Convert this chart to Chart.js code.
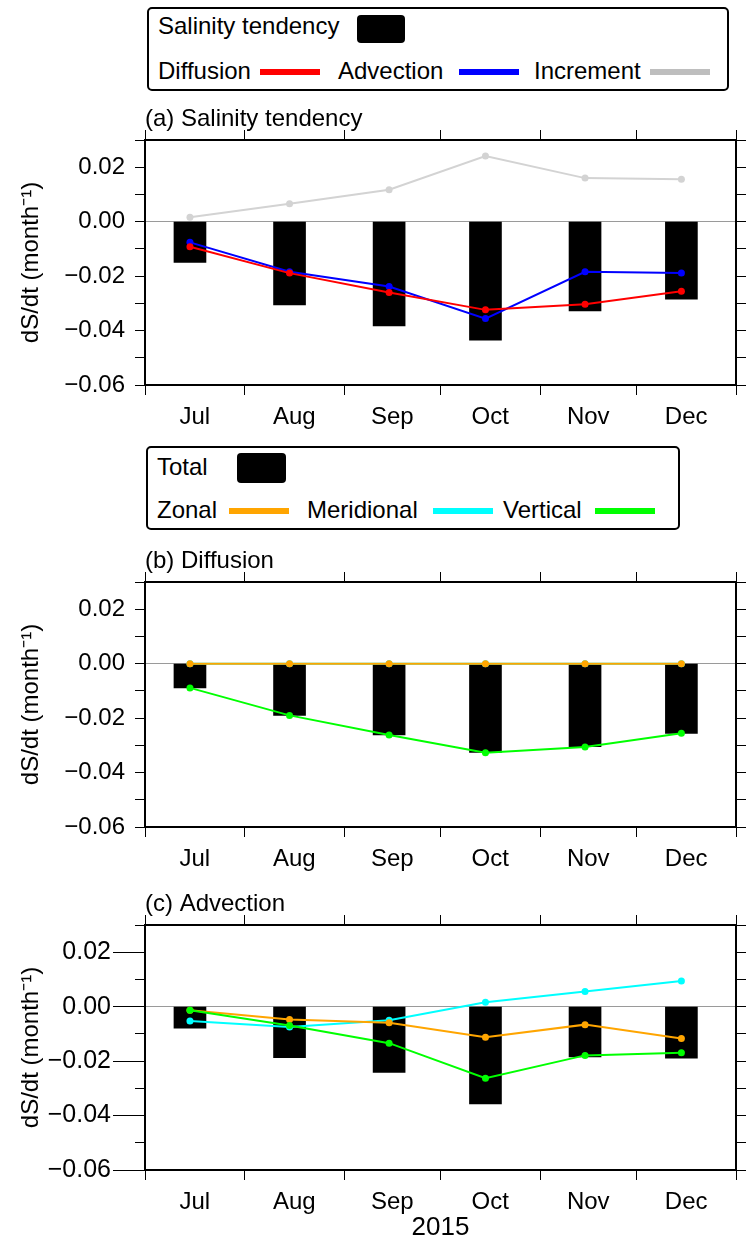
<!DOCTYPE html>
<html>
<head>
<meta charset="utf-8">
<title>Salinity tendency</title>
<script src="https://cdn.jsdelivr.net/npm/chart.js@4.4.1/dist/chart.umd.min.js"></script>
<style>
  body { margin: 0; width: 752px; height: 1242px; overflow: hidden; position: relative; background: #fff;
         font-family: 'Liberation Sans', Arial, sans-serif; color: #000; }
  canvas { position: absolute; left: 0; }
  .legend { position: absolute; border: 2px solid #000; border-radius: 5px; box-sizing: border-box; }
  .legend span { position: absolute; font-size: 24px; line-height: 24px; white-space: nowrap; }
  .legend i { position: absolute; display: block; }
</style>
</head>
<body>
<div class="legend" style="left:147px;top:7px;width:582px;height:84px">
  <span style="left:9px;top:5px">Salinity tendency</span>
  <i style="left:208px;top:6px;width:48px;height:28px;background:#000;border-radius:4px"></i>
  <span style="left:9px;top:50px">Diffusion</span>
  <i style="left:111px;top:60px;width:60px;height:6px;background:#ff0000"></i>
  <span style="left:189px;top:50px">Advection</span>
  <i style="left:310px;top:60px;width:60px;height:6px;background:#0000ff"></i>
  <span style="left:385px;top:50px">Increment</span>
  <i style="left:501px;top:60px;width:60px;height:6px;background:#bebebe"></i>
</div>
<div class="legend" style="left:146px;top:446px;width:534px;height:84px">
  <span style="left:9px;top:7px">Total</span>
  <i style="left:89px;top:5px;width:49px;height:30px;background:#000;border-radius:4px"></i>
  <span style="left:9px;top:50px">Zonal</span>
  <i style="left:81px;top:60px;width:60px;height:6px;background:#ffa500"></i>
  <span style="left:159px;top:50px">Meridional</span>
  <i style="left:285px;top:60px;width:60px;height:6px;background:#00ffff"></i>
  <span style="left:355px;top:50px">Vertical</span>
  <i style="left:447px;top:60px;width:60px;height:6px;background:#00ff00"></i>
</div>

<canvas id="chartA" width="752" height="330" style="top:100px"></canvas>
<canvas id="chartB" width="752" height="330" style="top:542px"></canvas>
<canvas id="chartC" width="752" height="357" style="top:885px"></canvas>

<script>
const year = 2015;
const months = ['Jul', 'Aug', 'Sep', 'Oct', 'Nov', 'Dec'];
const pointDates = ['2015-07-15', '2015-08-15', '2015-09-15', '2015-10-15', '2015-11-15', '2015-12-15'];

const yTicks = [-0.06, -0.05, -0.04, -0.03, -0.02, -0.01, 0, 0.01, 0.02, 0.03];
const yTickLabels = ['\u22120.06', '', '\u22120.04', '', '\u22120.02', '', '0.00', '', '0.02', ''];

// (a) salinity tendency budget
const tendencyA = [-0.0150, -0.0306, -0.0383, -0.0435, -0.0328, -0.0285];
const diffusionA = [-0.0092, -0.0189, -0.0260, -0.0324, -0.0303, -0.0256];
const advectionA = [-0.0076, -0.0184, -0.0238, -0.0356, -0.0184, -0.0189];
const incrementA = [0.0016, 0.0066, 0.0117, 0.0241, 0.0160, 0.0156];

// (b) diffusion terms
const totalB = [-0.0089, -0.0190, -0.0262, -0.0326, -0.0305, -0.0256];
const zonalB = [0, 0, 0, 0, 0, 0];
const meridionalB = [0, 0, 0, 0, 0, 0];
const verticalB = [-0.0089, -0.0190, -0.0262, -0.0327, -0.0306, -0.0256];

// (c) advection terms
const totalC = [-0.0079, -0.0187, -0.0242, -0.0357, -0.0185, -0.0189];
const zonalC = [-0.0013, -0.0047, -0.0059, -0.0112, -0.0066, -0.0117];
const meridionalC = [-0.0053, -0.0075, -0.0050, 0.0016, 0.0056, 0.0094];
const verticalC = [-0.0013, -0.0069, -0.0134, -0.0263, -0.0179, -0.0169];

Chart.defaults.font.family = "'Liberation Sans', Arial, sans-serif";
Chart.defaults.color = '#000';

// days since 1 Jul for the x axis
const DAY = 86400000;
const t0 = Date.UTC(year, 6, 1);
const xPts = pointDates.map(d => (Date.parse(d) - t0) / DAY);
const bounds = months.map((m, i) => (Date.UTC(year, 6 + i, 1) - t0) / DAY);
bounds.push((Date.UTC(year, 6 + months.length, 1) - t0) / DAY);
const centers = months.map((m, i) => (bounds[i] + bounds[i + 1]) / 2);
const xMax = bounds[bounds.length - 1];

const toXY = vals => vals.map((v, i) => ({ x: xPts[i], y: v }));

function lineSet(label, vals, color, order) {
  return {
    type: 'line', label, data: toXY(vals), order,
    borderColor: color, backgroundColor: color, borderWidth: 2,
    pointRadius: 3.5, pointBorderWidth: 0, pointHoverRadius: 3.5,
    tension: 0, fill: false, xAxisID: 'x', yAxisID: 'y'
  };
}

function barSet(label, vals) {
  return {
    type: 'bar', label, data: toXY(vals), order: 10,
    backgroundColor: '#000', borderWidth: 0, barThickness: 32,
    xAxisID: 'x', yAxisID: 'y'
  };
}

function makePanel(id, title, datasets, opt) {
  const setYTicks = s => { s.ticks = yTicks.map(v => ({ value: v })); };
  const frame = { display: true, color: '#000', width: 2 };
  return new Chart(document.getElementById(id), {
    type: 'line',
    data: { datasets },
    options: {
      responsive: false,
      animation: false,
      events: [],
      layout: { padding: 0 },
      plugins: { legend: { display: false }, tooltip: { enabled: false } },
      scales: {
        x: {
          type: 'linear', position: 'bottom', min: 0, max: xMax, offset: false,
          afterBuildTicks: s => { s.ticks = bounds.concat(centers).sort((a, b) => a - b).map(v => ({ value: v })); },
          afterFit: s => { s.height = opt.bottomH; },
          grid: {
            drawOnChartArea: false, offset: false, tickLength: 10, tickWidth: 1,
            tickColor: ctx => (ctx.tick && bounds.includes(ctx.tick.value)) ? '#000' : 'rgba(0,0,0,0)'
          },
          border: frame,
          ticks: {
            autoSkip: false, maxRotation: 0, padding: 8, font: { size: 24 },
            callback: v => { const i = centers.indexOf(v); return i >= 0 ? months[i] : ''; }
          },
          title: opt.xTitle
            ? { display: true, text: opt.xTitle, font: { size: 26, lineHeight: 1.1 }, padding: { top: 0, bottom: 0 } }
            : { display: false }
        },
        xTop: {
          type: 'linear', position: 'top', min: 0, max: xMax, offset: false,
          afterBuildTicks: s => { s.ticks = bounds.map(v => ({ value: v })); },
          afterFit: s => { s.height = 40; },
          grid: { drawOnChartArea: false, offset: false, tickLength: 10, tickWidth: 1, tickColor: '#000' },
          border: frame,
          ticks: { display: false },
          title: { display: true, text: title, align: 'start', font: { size: 24 }, padding: { top: 5, bottom: 0 } }
        },
        y: {
          type: 'linear', position: 'left', weight: 1, min: -0.06, max: 0.03,
          afterBuildTicks: setYTicks,
          afterFit: s => { s.width = 145; },
          grid: {
            drawOnChartArea: true, lineWidth: 1, tickLength: opt.majorLen, tickWidth: 1,
            color: ctx => (ctx.tick && ctx.tick.value === 0) ? '#9a9a9a' : 'rgba(0,0,0,0)',
            tickColor: ctx => yTickLabels[ctx.index] ? '#000' : 'rgba(0,0,0,0)'
          },
          border: frame,
          ticks: { autoSkip: false, padding: opt.labelPad, font: { size: opt.tickSize }, callback: (v, i) => yTickLabels[i] },
          title: { display: true, text: 'dS/dt (month\u207B\u00B9)', font: { size: 24 }, padding: { top: 17, bottom: 0 } }
        },
        yMinor: {
          type: 'linear', position: 'left', weight: 0, min: -0.06, max: 0.03,
          afterBuildTicks: setYTicks,
          afterFit: s => { s.width = 0; },
          grid: { drawOnChartArea: false, tickLength: 10, tickWidth: 1, tickColor: '#000' },
          border: { display: false },
          ticks: { display: false }
        },
        yRight: {
          type: 'linear', position: 'right', min: -0.06, max: 0.03,
          afterBuildTicks: setYTicks,
          afterFit: s => { s.width = 16; },
          grid: { drawOnChartArea: false, tickLength: 10, tickWidth: 1, tickColor: '#000' },
          border: frame,
          ticks: { display: false }
        }
      }
    }
  });
}

makePanel('chartA', '(a) Salinity tendency', [
  lineSet('Diffusion', diffusionA, '#ff0000', 0),
  lineSet('Advection', advectionA, '#0000ff', 1),
  lineSet('Increment', incrementA, '#d3d3d3', 2),
  barSet('Salinity tendency', tendencyA)
], { bottomH: 45, majorLen: 10, labelPad: 10, tickSize: 24 });

makePanel('chartB', '(b) Diffusion', [
  lineSet('Zonal', zonalB, '#ffa500', 1),
  lineSet('Meridional', meridionalB, '#00ffff', 2),
  lineSet('Vertical', verticalB, '#00ff00', 0),
  barSet('Total', totalB)
], { bottomH: 45, majorLen: 10, labelPad: 10, tickSize: 24 });

makePanel('chartC', '(c) Advection', [
  lineSet('Zonal', zonalC, '#ffa500', 1),
  lineSet('Meridional', meridionalC, '#00ffff', 2),
  lineSet('Vertical', verticalC, '#00ff00', 0),
  barSet('Total', totalC)
], { bottomH: 72, majorLen: 32, labelPad: 2, tickSize: 25, xTitle: String(year) });
</script>
</body>
</html>
